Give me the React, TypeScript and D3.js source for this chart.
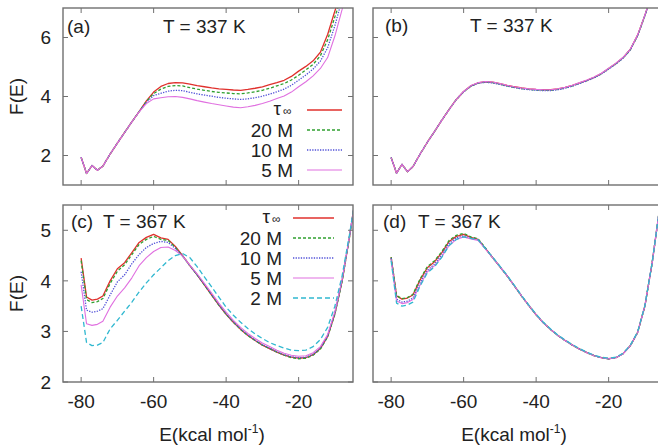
import React, { useEffect, useRef } from 'react';
import * as d3 from 'd3';

// energy grid, kcal/mol
const energies = [-80, -78.5, -77, -75.5, -74, -72, -70, -68, -66, -64, -62, -60, -58, -56, -54, -52, -50, -48, -46, -44,
  -42, -40, -38, -36, -34, -32, -30, -28, -26, -24, -22, -20, -18, -16, -14, -12, -10, -8, -6, -4];

// (a) T = 337 K, raw
const a337Inf = [1.94, 1.39, 1.66, 1.50, 1.64, 2.05, 2.42, 2.78, 3.14, 3.49, 3.85, 4.15, 4.34, 4.44, 4.47, 4.46, 4.42, 4.37, 4.33, 4.29,
  4.26, 4.24, 4.22, 4.21, 4.24, 4.28, 4.33, 4.40, 4.47, 4.55, 4.68, 4.86, 5.02, 5.21, 5.50, 6.10, 6.90, 7.60, 8.50, 9.40];
const a337M20 = [1.94, 1.39, 1.66, 1.50, 1.64, 2.05, 2.42, 2.78, 3.14, 3.49, 3.83, 4.10, 4.25, 4.34, 4.37, 4.36, 4.30, 4.25, 4.21, 4.17,
  4.14, 4.12, 4.10, 4.09, 4.12, 4.16, 4.21, 4.28, 4.36, 4.44, 4.56, 4.72, 4.90, 5.09, 5.38, 5.92, 6.70, 7.45, 8.40, 9.30];
const a337M10 = [1.94, 1.39, 1.66, 1.50, 1.64, 2.05, 2.42, 2.78, 3.14, 3.49, 3.80, 4.03, 4.11, 4.18, 4.21, 4.20, 4.14, 4.09, 4.05, 4.01,
  3.97, 3.94, 3.92, 3.90, 3.92, 3.96, 4.01, 4.08, 4.16, 4.25, 4.38, 4.55, 4.73, 4.93, 5.20, 5.65, 6.40, 7.30, 8.30, 9.20];
const a337M5 = [1.94, 1.39, 1.66, 1.50, 1.64, 2.05, 2.42, 2.78, 3.14, 3.48, 3.76, 3.92, 3.96, 3.99, 4.00, 3.97, 3.92, 3.86, 3.81, 3.76,
  3.72, 3.68, 3.64, 3.62, 3.65, 3.70, 3.76, 3.84, 3.93, 4.02, 4.15, 4.33, 4.50, 4.70, 4.95, 5.32, 6.05, 6.95, 8.10, 9.00];

// (b) T = 337 K, corrected
const b337Inf = [1.93, 1.40, 1.70, 1.45, 1.62, 2.05, 2.45, 2.82, 3.20, 3.56, 3.90, 4.17, 4.36, 4.46, 4.50, 4.49, 4.44, 4.38, 4.33, 4.29,
  4.26, 4.24, 4.23, 4.23, 4.26, 4.31, 4.38, 4.46, 4.55, 4.65, 4.78, 4.95, 5.12, 5.32, 5.60, 6.08, 6.75, 7.50, 8.40, 9.30];
const b337M20 = [1.93, 1.40, 1.70, 1.45, 1.62, 2.05, 2.45, 2.82, 3.20, 3.56, 3.90, 4.16, 4.35, 4.45, 4.49, 4.47, 4.42, 4.36, 4.31, 4.27,
  4.24, 4.22, 4.21, 4.21, 4.24, 4.29, 4.36, 4.45, 4.54, 4.64, 4.77, 4.94, 5.11, 5.31, 5.59, 6.07, 6.74, 7.50, 8.40, 9.30];
const b337M10 = [1.93, 1.40, 1.70, 1.45, 1.62, 2.05, 2.45, 2.82, 3.20, 3.56, 3.90, 4.16, 4.35, 4.45, 4.48, 4.46, 4.41, 4.35, 4.30, 4.26,
  4.23, 4.21, 4.20, 4.20, 4.23, 4.28, 4.35, 4.44, 4.53, 4.63, 4.76, 4.93, 5.10, 5.30, 5.58, 6.06, 6.73, 7.48, 8.40, 9.30];
const b337M5 = [1.93, 1.40, 1.70, 1.45, 1.62, 2.05, 2.45, 2.82, 3.20, 3.56, 3.90, 4.17, 4.37, 4.47, 4.51, 4.49, 4.44, 4.38, 4.33, 4.29,
  4.26, 4.24, 4.23, 4.23, 4.26, 4.31, 4.38, 4.47, 4.56, 4.66, 4.79, 4.96, 5.13, 5.33, 5.61, 6.09, 6.76, 7.52, 8.40, 9.30];

// (c) T = 367 K, raw
const c367Inf = [4.45, 3.68, 3.62, 3.64, 3.70, 4.00, 4.24, 4.36, 4.56, 4.76, 4.86, 4.92, 4.85, 4.82, 4.68, 4.50, 4.30, 4.12, 3.92, 3.72,
  3.52, 3.34, 3.18, 3.04, 2.92, 2.82, 2.73, 2.66, 2.59, 2.53, 2.49, 2.47, 2.48, 2.54, 2.66, 2.90, 3.35, 4.00, 4.85, 5.80];
const c367M20 = [4.40, 3.63, 3.57, 3.59, 3.65, 3.95, 4.19, 4.32, 4.52, 4.72, 4.82, 4.88, 4.82, 4.80, 4.66, 4.49, 4.30, 4.12, 3.92, 3.72,
  3.52, 3.34, 3.18, 3.04, 2.92, 2.82, 2.73, 2.66, 2.59, 2.53, 2.48, 2.46, 2.47, 2.53, 2.65, 2.89, 3.34, 3.99, 4.85, 5.80];
const c367M10 = [4.18, 3.42, 3.38, 3.40, 3.45, 3.72, 3.98, 4.12, 4.34, 4.52, 4.66, 4.74, 4.78, 4.76, 4.64, 4.49, 4.30, 4.12, 3.93, 3.73,
  3.53, 3.35, 3.19, 3.05, 2.93, 2.83, 2.74, 2.67, 2.60, 2.54, 2.50, 2.48, 2.49, 2.55, 2.67, 2.91, 3.36, 4.01, 4.86, 5.80];
const c367M5 = [3.92, 3.15, 3.12, 3.14, 3.20, 3.48, 3.70, 3.86, 4.06, 4.30, 4.46, 4.58, 4.66, 4.67, 4.60, 4.49, 4.31, 4.14, 3.95, 3.76,
  3.56, 3.38, 3.22, 3.08, 2.96, 2.86, 2.77, 2.70, 2.63, 2.57, 2.53, 2.51, 2.52, 2.58, 2.70, 2.94, 3.39, 4.03, 4.87, 5.80];
const c367M2 = [3.50, 2.78, 2.72, 2.73, 2.78, 3.05, 3.22, 3.40, 3.58, 3.78, 3.96, 4.12, 4.26, 4.40, 4.50, 4.54, 4.46, 4.28, 4.08, 3.88,
  3.68, 3.48, 3.32, 3.18, 3.06, 2.95, 2.86, 2.78, 2.72, 2.67, 2.63, 2.62, 2.63, 2.70, 2.84, 3.08, 3.50, 4.10, 4.90, 5.80];

// (d) T = 367 K, corrected
const d367Inf = [4.47, 3.70, 3.64, 3.66, 3.72, 4.02, 4.26, 4.38, 4.56, 4.78, 4.88, 4.92, 4.86, 4.82, 4.64, 4.46, 4.28, 4.10, 3.90, 3.70,
  3.51, 3.33, 3.17, 3.04, 2.92, 2.82, 2.73, 2.65, 2.58, 2.52, 2.48, 2.46, 2.48, 2.56, 2.72, 2.98, 3.50, 4.35, 5.40, 6.50];
const d367M20 = [4.47, 3.71, 3.65, 3.67, 3.73, 4.04, 4.28, 4.40, 4.58, 4.80, 4.90, 4.94, 4.87, 4.83, 4.65, 4.46, 4.28, 4.10, 3.90, 3.70,
  3.51, 3.33, 3.17, 3.04, 2.92, 2.82, 2.73, 2.65, 2.58, 2.52, 2.48, 2.46, 2.48, 2.56, 2.72, 2.98, 3.50, 4.35, 5.40, 6.50];
const d367M10 = [4.45, 3.64, 3.58, 3.60, 3.66, 3.96, 4.21, 4.33, 4.52, 4.74, 4.85, 4.89, 4.84, 4.81, 4.64, 4.46, 4.28, 4.10, 3.90, 3.70,
  3.51, 3.33, 3.17, 3.04, 2.92, 2.82, 2.73, 2.65, 2.58, 2.52, 2.48, 2.46, 2.48, 2.56, 2.72, 2.98, 3.50, 4.35, 5.40, 6.50];
const d367M5 = [4.43, 3.60, 3.55, 3.57, 3.63, 3.92, 4.18, 4.30, 4.48, 4.70, 4.82, 4.87, 4.83, 4.80, 4.63, 4.46, 4.28, 4.10, 3.90, 3.70,
  3.51, 3.33, 3.17, 3.04, 2.92, 2.82, 2.73, 2.65, 2.58, 2.52, 2.48, 2.46, 2.48, 2.56, 2.72, 2.98, 3.50, 4.35, 5.40, 6.50];
const d367M2 = [4.40, 3.56, 3.50, 3.52, 3.58, 3.90, 4.16, 4.28, 4.47, 4.70, 4.82, 4.87, 4.84, 4.81, 4.64, 4.47, 4.29, 4.11, 3.91, 3.71,
  3.52, 3.34, 3.18, 3.05, 2.93, 2.83, 2.74, 2.66, 2.59, 2.53, 2.49, 2.47, 2.49, 2.57, 2.73, 2.99, 3.51, 4.36, 5.40, 6.50];

const seriesLabels = ['τ∞', '20 M', '10 M', '5 M', '2 M'];
const xTicks = [-80, -60, -40, -20];

const styles = [
  { color: '#e0302c', dash: null, width: 1.3 },
  { color: '#30a030', dash: '3,2', width: 1.3 },
  { color: '#5050d8', dash: '1.3,1.3', width: 1.3 },
  { color: '#e070e0', dash: null, width: 1.1 },
  { color: '#30b8d0', dash: '5,3', width: 1.3 },
];

const FONT = '"Liberation Sans", Arial, Helvetica, sans-serif';
const FS = 19;

const panels = [
  { key: 'a', x0: 63, y0: 8, y1: 185, yDomain: [1, 7], yTicks: [2, 4, 6], yLabels: true, xLabels: false,
    tag: '(a)', tagX: 67, title: 'T = 337 K', titleX: 163, textY: 33,
    series: [a337Inf, a337M20, a337M10, a337M5], legend: { right: 293, top: 110, lx0: 307, lx1: 342 } },
  { key: 'b', x0: 373, y0: 8, y1: 185, yDomain: [1, 7], yTicks: [2, 4, 6], yLabels: false, xLabels: false,
    tag: '(b)', tagX: 385, title: 'T = 337 K', titleX: 470, textY: 32,
    series: [b337Inf, b337M20, b337M10, b337M5], legend: null },
  { key: 'c', x0: 63, y0: 205, y1: 382, yDomain: [2, 5.5], yTicks: [2, 3, 4, 5], yLabels: true, xLabels: true,
    tag: '(c)', tagX: 71, title: 'T = 367 K', titleX: 103, textY: 228,
    series: [c367Inf, c367M20, c367M10, c367M5, c367M2], legend: { right: 282, top: 218, lx0: 293, lx1: 334 } },
  { key: 'd', x0: 373, y0: 205, y1: 382, yDomain: [2, 5.5], yTicks: [2, 3, 4, 5], yLabels: false, xLabels: true,
    tag: '(d)', tagX: 383, title: 'T = 367 K', titleX: 418, textY: 228,
    series: [d367Inf, d367M20, d367M10, d367M5, d367M2], legend: null },
];

const W = 658;
const H = 446;
const PW = 290;

export default function App() {
  const svgRef = useRef(null);

  useEffect(() => {
    const svg = d3.select(svgRef.current);
    svg.selectAll('*').remove();
    const defs = svg.append('defs');

    panels.forEach(p => {
      const x = d3.scaleLinear().domain([-85, -5]).range([p.x0, p.x0 + PW]);
      const y = d3.scaleLinear().domain(p.yDomain).range([p.y1, p.y0]);
      const g = svg.append('g');

      defs.append('clipPath').attr('id', 'clip-' + p.key)
        .append('rect')
        .attr('x', p.x0).attr('y', p.y0)
        .attr('width', PW).attr('height', p.y1 - p.y0);

      // curves
      const line = d3.line<number>()
        .x((d, i) => x(energies[i]))
        .y(d => y(d));
      const curves = g.append('g').attr('clip-path', `url(#clip-${p.key})`);
      p.series.forEach((vals, i) => {
        curves.append('path')
          .attr('d', line(vals))
          .attr('fill', 'none')
          .attr('stroke', styles[i].color)
          .attr('stroke-width', styles[i].width)
          .attr('stroke-dasharray', styles[i].dash)
          .attr('stroke-linejoin', 'round');
      });

      // frame and mirrored ticks
      const frameColor = '#707070';
      g.append('rect')
        .attr('x', p.x0).attr('y', p.y0)
        .attr('width', PW).attr('height', p.y1 - p.y0)
        .attr('fill', 'none').attr('stroke', frameColor).attr('stroke-width', 1.4);
      const tl = 5;
      xTicks.forEach(t => {
        g.append('line').attr('x1', x(t)).attr('x2', x(t)).attr('y1', p.y1).attr('y2', p.y1 - tl)
          .attr('stroke', frameColor).attr('stroke-width', 1);
        g.append('line').attr('x1', x(t)).attr('x2', x(t)).attr('y1', p.y0).attr('y2', p.y0 + tl)
          .attr('stroke', frameColor).attr('stroke-width', 1);
      });
      p.yTicks.forEach(t => {
        g.append('line').attr('x1', p.x0).attr('x2', p.x0 + tl).attr('y1', y(t)).attr('y2', y(t))
          .attr('stroke', frameColor).attr('stroke-width', 1);
        g.append('line').attr('x1', p.x0 + PW).attr('x2', p.x0 + PW - tl).attr('y1', y(t)).attr('y2', y(t))
          .attr('stroke', frameColor).attr('stroke-width', 1);
      });

      const txt = (sel) => sel.attr('font-family', FONT).attr('font-size', FS).attr('fill', '#222');

      if (p.yLabels) {
        p.yTicks.forEach(t => {
          txt(g.append('text'))
            .attr('x', p.x0 - 12).attr('y', y(t)).attr('dy', '0.36em')
            .attr('text-anchor', 'end').text(t);
        });
        const cy = (p.y0 + p.y1) / 2;
        txt(g.append('text'))
          .attr('transform', `translate(23, ${cy}) rotate(-90)`)
          .attr('text-anchor', 'middle').text('F(E)');
      }

      if (p.xLabels) {
        xTicks.forEach(t => {
          txt(g.append('text'))
            .attr('x', x(t)).attr('y', 408)
            .attr('text-anchor', 'middle').text(t);
        });
        const lab = txt(g.append('text'))
          .attr('x', p.x0 + PW / 2 + (p.key === 'd' ? -4 : 4)).attr('y', 441)
          .attr('text-anchor', 'middle');
        lab.append('tspan').text('E(kcal mol');
        lab.append('tspan').attr('dy', -8).attr('font-size', 12).text('-1');
        lab.append('tspan').attr('dy', 8).text(')');
      }

      // panel tag and temperature
      txt(g.append('text')).attr('x', p.tagX).attr('y', p.textY).text(p.tag);
      txt(g.append('text')).attr('x', p.titleX).attr('y', p.textY).text(p.title);

      // legend
      if (p.legend) {
        p.series.forEach((vals, i) => {
          const ry = p.legend.top + i * 20;
          if (i === 0) {
            // τ with a small ∞, kept as two texts side by side
            const label = seriesLabels[0];
            txt(g.append('text'))
              .attr('x', p.legend.right - 12).attr('y', ry + 5)
              .attr('text-anchor', 'end').text(label.charAt(0));
            txt(g.append('text'))
              .attr('x', p.legend.right - 10).attr('y', ry + 5)
              .attr('font-size', 12).text(label.charAt(1));
          } else {
            txt(g.append('text'))
              .attr('x', p.legend.right).attr('y', ry + 6.5)
              .attr('text-anchor', 'end').text(seriesLabels[i]);
          }
          g.append('line')
            .attr('x1', p.legend.lx0).attr('x2', p.legend.lx1)
            .attr('y1', ry).attr('y2', ry)
            .attr('stroke', styles[i].color)
            .attr('stroke-width', styles[i].width)
            .attr('stroke-dasharray', styles[i].dash);
        });
      }
    });
  }, []);

  return (
    <svg ref={svgRef} width={W} height={H}
      style={{ position: 'absolute', left: 0, top: 0, background: '#fff' }} />
  );
}
